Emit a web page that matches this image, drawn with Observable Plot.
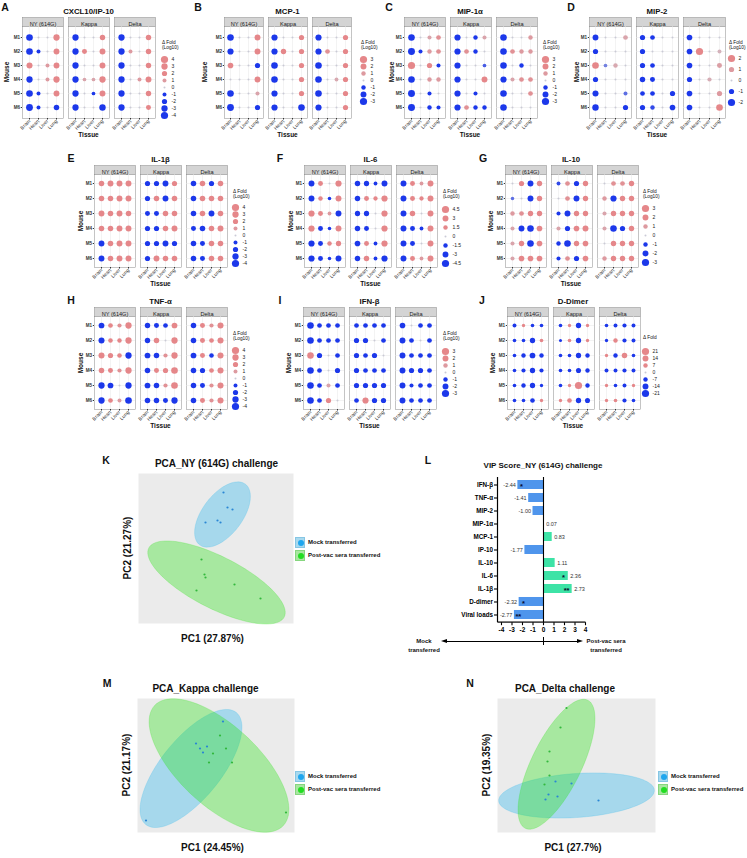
<!DOCTYPE html>
<html><head><meta charset="utf-8">
<script src="https://cdn.jsdelivr.net/npm/d3@7"></script>
<script src="https://cdn.jsdelivr.net/npm/@observablehq/plot@0.6"></script>
<style>
body{margin:0;background:#fff;}
#fig{position:relative;width:747px;height:858px;overflow:hidden;background:#fff;font-family:"Liberation Sans",Arial,sans-serif;}
.t{position:absolute;white-space:nowrap;line-height:1;color:#111;}
</style></head><body><div id="fig"></div>
<script>
// ---------------- DATA ----------------
const tissues = ["Brain", "Heart", "Liver", "Lung"];
const mice = ["M1", "M2", "M3", "M4", "M5", "M6"];
const strains = ["NY (614G)", "Kappa", "Delta"];

const breaks4 = [4, 3, 2, 1, 0, -1, -2, -3, -4];
const breaks3 = [3, 2, 1, 0, -1, -2, -3];
const breaks2 = [2, 1, 0, -1, -2];
const breaks45 = [4.5, 3, 1.5, 0, -1.5, -3, -4.5];
const breaksDD = [21, 14, 7, 0, -7, -14, -21];

// rows M1..M6, columns Brain, Heart, Liver, Lung
const ip10_NY = [[-3.4,0,0,3],[-3.4,-1,0,2.6],[2.8,0,1,2.6],[-3,0,1,3],[-3.4,-1,0,2.6],[-3.6,-1,0,-2.3]];
const ip10_Kappa = [[-3,0,0,2.2],[-3,1.8,0,2.6],[-3,0,0,2.6],[-3,0.8,0.8,3],[-3,0,-0.8,2.6],[-3,0,0,-3.2]];
const ip10_Delta = [[-3,0,0,2.2],[-3,1,0,2.2],[-3,0,0,2.2],[-3,0,1,2.6],[-3,0,0,2.2],[-3,0,0,1.8]];

const mcp1_NY = [[-2.5,0,0,2],[-2.2,0,0,2],[1.8,0,0,-1.5],[0,0,0,2],[-2.5,0,0,0.8],[-2.7,0,0,-1.5]];
const mcp1_Kappa = [[-2.2,0,0,1.5],[-2.2,1.6,0,1.5],[-2.5,0,0,1.5],[-2.5,0,0,1.5],[-2.2,0,0,1.5],[-2.2,0,0,-2.5]];
const mcp1_Delta = [[-2.2,0,0,1.5],[-2.2,1.2,0,1.5],[-2.5,0,0,1.5],[-2.5,0,0.7,1.5],[-2.5,0,0,1.5],[-2.2,0,0,1.5]];

const mip1a_NY = [[-2.5,0,0.8,1.2],[-2.8,-0.8,1,1.2],[3,0,1.5,-0.8],[-2.5,0,1,1],[-2.8,0,-0.8,0],[-2.8,0,-1,-0.8]];
const mip1a_Kappa = [[-2.2,0,-1,0.8],[-2.2,1.2,-1,0],[-2.2,0,0,-0.6],[-2.2,0,0,2],[-2.2,0,-0.8,0],[-2.2,1.2,-1,-1]];
const mip1a_Delta = [[-2.5,0,0,1],[-2.5,1.2,1,1],[-2.5,0,-1,0],[-2.2,0.8,1.2,1.2],[-2.5,0,0,1.2],[-2.5,0,0,0]];

const mip2_NY = [[-1.3,0,0,0.8],[-1,0,0,0],[1.7,-0.4,0.7,0],[-1,0,0,0],[-1.4,0,0,-0.5],[-1.6,0,0,-1]];
const mip2_Kappa = [[-1,-0.8,0,0],[-1,0,0,0],[-1,-0.8,0,0],[-1.1,-0.9,0,0],[-0.8,-0.8,0,-1],[-1,-0.7,0,-1.2]];
const mip2_Delta = [[-1.2,0,0,0],[-1.2,2,0,0.5],[-1.2,0,0,0.9],[-1,0,0.6,0],[-1.2,0,0,1],[-1.2,0,0,1.7]];

const il1b_NY = [[2.3,2.6,2.6,2.6],[2.3,2.3,2.6,2.6],[2.6,2.3,2.6,2.3],[2.3,2.3,2.6,2.6],[-2.6,2.3,2.6,2.6],[-2.6,2.3,2.6,2.6]];
const il1b_Kappa = [[-2,-2,-2.6,2],[-2,2.3,-2.6,2.3],[-1.8,-1.8,2.3,2.3],[-2,-2,2.3,2.6],[-2,-2,-2.6,-2],[-2,2.6,2.3,2.3]];
const il1b_Delta = [[-2.3,2.3,-2,2.3],[-2.3,2.3,2.3,2.3],[-2.3,2.3,-2.6,2.3],[-1.8,-2.3,2.3,2.6],[-2.3,-1.8,2.3,2.3],[-2.3,-1.8,2.3,2.3]];

const il6_NY = [[-3,2,0,3.3],[-3,1.6,-0.8,3],[3.3,2,1,-3],[3.3,-2,-0.8,3],[-3.3,-2,1.6,2.3],[-3.3,-2,-0.8,-3]];
const il6_Kappa = [[-2.5,-2.3,-1,-3],[-2.5,2,1.4,3.3],[-2.3,-2.3,0,3.3],[-2.5,-2,0,3.3],[-2.7,2,-1,3.3],[-2.5,2.5,-1,-3.3]];
const il6_Delta = [[-3,2,1,3],[-3,2,1.4,3],[-3,2.5,0,3],[-3,-2,-1,3],[-3,-2,0,3],[-3,2,1,3]];

const il10_NY = [[0,1.5,-2,1.6],[-0.5,0,-2,1.6],[1,1.2,1.6,1.6],[0.8,-2,-2.5,1.8],[0.8,1.6,-2.5,1.8],[0.8,1.8,1.8,1.8]];
const il10_Kappa = [[-0.7,1.2,-1.5,1.6],[0,1.2,-2,1.6],[-0.8,-2,1.6,1.6],[0.8,-1.5,1.8,2],[-1,-2.5,1.6,1.8],[-0.8,1.2,-1.5,1.8]];
const il10_Delta = [[0,1.2,1.2,1.6],[1,-2.2,1.6,1.6],[0.8,1.6,1.6,1.6],[0.8,-2.5,-1.5,1.6],[0,1.6,1.6,1.6],[1,1.6,1.6,1.6]];

const tnfa_NY = [[-2.5,1.6,1.2,3],[-2.8,1.5,1.4,3],[2.8,2,1.5,-3],[2.3,1.8,1.2,3],[-3,-2.5,0,-3],[-3,1.6,1,-3.4]];
const tnfa_Kappa = [[-2.2,-1.8,-1.6,2.5],[-2.2,2.3,0,3],[-2.5,-2.3,1.2,3],[-2.3,1.8,2,3.4],[-2.5,-2.3,1.2,3.4],[-2.3,-2.3,-1.8,-3]];
const tnfa_Delta = [[-2.3,1.8,1.2,2.8],[-2.3,1.8,1.6,2.8],[-2.5,1.8,-1.5,2.8],[-2.3,-2,1.6,2.8],[-2.3,-1.8,1.2,2.8],[-2.3,1.8,1.2,2.8]];

const ifnb_NY = [[-2.5,-1.2,-1.2,-1.2],[-2.5,-1.2,-1.2,-1.2],[2.5,-1.5,0,-1.2],[-2.5,-1.2,0,-1.5],[-2.5,-1.2,0.8,-1.2],[-2.5,-1.2,1.5,0]];
const ifnb_Kappa = [[-1.2,-1.2,-1.2,-1.2],[-1.5,-1.5,0,-1.2],[-1.5,-1.2,-1.5,0],[-1.5,-1.2,-1.2,-1.2],[-1.5,-1.5,-1.5,-1.5],[-1.2,2.2,-1.5,-1.5]];
const ifnb_Delta = [[-1.8,0,-1.2,-1.2],[-2,-1.2,0,-1.2],[-2,-1.2,-1.2,-1.2],[-2,-1.5,-1.5,-1.2],[-2,-0.8,-1.2,-1.2],[-2,-1.2,-1.2,-1.2]];

const ddimer_NY = [[-5,3,-4,-4],[-4,-4,-11,4],[-4,-7,-13,-7],[-4,-6,-11,-6],[-4,-7,-11,-3],[-4,-4,-8,3]];
const ddimer_Kappa = [[-4,3,-11,3],[-2,4,-11,3],[-4,-4,-11,-7],[-4,-4,-10,-7],[-4,3,21,-7],[3,8,-11,-10]];
const ddimer_Delta = [[-4,-5,-6,-5],[-3,7,-6,-5],[3,-7,12,-4],[-5,-5,-6,-5],[3,-4,-5,3],[3,4,-6,-4]];

// VIP scores (panel L)
const vipLabels = ["IFN-β","TNF-α","MIP-2","MIP-1α","MCP-1","IP-10","IL-10","IL-6","IL-1β","D-dimer","Viral loads"];
const vipScores = [-2.44,-1.41,-1.00,0.07,0.83,-1.77,1.11,2.36,2.73,-2.32,-2.77];
const vipStars = ["*","","","","","","","*","**","*","**"];
const vipStarX = [-2.1,null,null,null,null,null,null,1.9,2.2,-1.9,-2.4];
const vipTicks = [-4,-3,-2,-1,0,1,2,3,4];
const vipXDomain = [-4.38, 4];

// PCA scores (panels K, M, N)
const pcaK_mock_pc1 = [0.3,0.46,0.66,-0.42,0.06,0.18];
const pcaK_mock_pc2 = [2.24,1.64,1.56,1.04,1.12,1.04];
const pcaK_post_pc1 = [-0.58,-0.46,-0.42,-0.78,0.74,1.78];
const pcaK_post_pc2 = [-0.44,-1.04,-1.16,-1.68,-1.44,-2.0];
const pcaK_mock_ellipse = [0.26,1.36,1.52,0.8,53];   // cx, cy, semi-major, semi-minor, angle
const pcaK_post_ellipse = [0.02,-1.36,3.04,1.04,-27];

const pcaM_mock_pc1 = [0.28,-0.8,-0.64,-0.36,-0.52,-2.8];
const pcaM_mock_pc2 = [1.76,0.88,0.68,0.76,0.52,-2.2];
const pcaM_post_pc1 = [0.16,-0.12,-0.28,0.64,0.4,2.8];
const pcaM_post_pc2 = [1.2,0.48,0.12,0.12,0.68,-1.88];
const pcaM_mock_ellipse = [-1.0,-0.12,2.88,1.2,51];
const pcaM_post_ellipse = [0.12,0,3.52,1.6,-43];

const pcaN_mock_pc1 = [-0.84,-0.2,-1.12,-0.76,0.88,-1.24];
const pcaN_mock_pc2 = [-0.64,-0.72,-1.16,-1.24,-1.4,-1.36];
const pcaN_post_pc1 = [-0.4,-0.64,-1.08,-1.16,-1.08,-1.28];
const pcaN_post_pc2 = [2.3,1.52,0.56,0.16,-0.4,-0.76];
const pcaN_mock_ellipse = [0,-1.2,3.12,0.88,4];
const pcaN_post_ellipse = [-0.8,0.05,2.85,1.0,64];

// ---------------- STYLE ----------------
const FONT = '"Liberation Sans", Arial, sans-serif';
const BLUE = "#1c38ea", GREY = "#cacad6", RED = "#e5878a";
const fig = document.getElementById("fig");

function txt(s, x, y, o = {}) {
  const d = document.createElement("div");
  d.className = "t";
  d.textContent = s;
  d.style.left = x + "px"; d.style.top = y + "px";
  d.style.fontSize = (o.size || 8) + "px";
  d.style.fontWeight = o.weight || "normal";
  if (o.color) d.style.color = o.color;
  const a = o.anchor || "middle";
  const tx = a === "middle" ? "-50%" : a === "end" ? "-100%" : "0";
  d.style.transform = `translate(${tx},-50%)` + (o.rotate ? ` rotate(${o.rotate}deg)` : "");
  fig.appendChild(d);
}
function put(svg, x, y) {
  svg.style.position = "absolute";
  svg.style.left = x + "px";
  svg.style.top = y + "px";
  fig.appendChild(svg);
}
function box(css) {
  const d = document.createElement("div");
  d.style.cssText = "position:absolute;" + css;
  fig.appendChild(d);
  return d;
}

// ---------------- BUBBLE PANELS ----------------
const row1 = {top: 26, bot: 118, legY0: 57};
const row2 = {top: 174, bot: 267, legY0: 206};
const row3 = {top: 316, bot: 409, legY0: 348};
const panels = [
  {L:"A", lx:5, ly:7, title:"CXCL10/IP-10", vals:[ip10_NY, ip10_Kappa, ip10_Delta], breaks:breaks4, fl:22, fr:155, ...row1, mouseX:7, legX:164, legY1:116},
  {L:"B", lx:198, ly:7, title:"MCP-1", vals:[mcp1_NY, mcp1_Kappa, mcp1_Delta], breaks:breaks3, fl:223, fr:352, ...row1, mouseX:205, legX:363, legY1:103},
  {L:"C", lx:389, ly:7, title:"MIP-1α", vals:[mip1a_NY, mip1a_Kappa, mip1a_Delta], breaks:breaks3, fl:403, fr:537, ...row1, mouseX:392, legX:545, legY1:103},
  {L:"D", lx:571, ly:7, title:"MIP-2", vals:[mip2_NY, mip2_Kappa, mip2_Delta], breaks:breaks2, fl:589, fr:725, ...row1, mouseX:577, legX:731, legY1:103},
  {L:"E", lx:71, ly:158, title:"IL-1β", vals:[il1b_NY, il1b_Kappa, il1b_Delta], breaks:breaks4, fl:93, fr:228, ...row2, mouseX:81, legX:235, legY1:264},
  {L:"F", lx:280, ly:158, title:"IL-6", vals:[il6_NY, il6_Kappa, il6_Delta], breaks:breaks45, fl:303, fr:438, ...row2, mouseX:291, legX:445, legY1:265},
  {L:"G", lx:483, ly:158, title:"IL-10", vals:[il10_NY, il10_Kappa, il10_Delta], breaks:breaks3, fl:504, fr:638, ...row2, mouseX:491, legX:645, legY1:264},
  {L:"H", lx:71, ly:300, title:"TNF-α", vals:[tnfa_NY, tnfa_Kappa, tnfa_Delta], breaks:breaks4, fl:93, fr:228, ...row3, mouseX:81, legX:235, legY1:407},
  {L:"I", lx:280, ly:300, title:"IFN-β", vals:[ifnb_NY, ifnb_Kappa, ifnb_Delta], breaks:breaks3, fl:302, fr:437, ...row3, mouseX:289, legX:445, legY1:395},
  {L:"J", lx:482, ly:300, title:"D-Dimer", vals:[ddimer_NY, ddimer_Kappa, ddimer_Delta], breaks:breaksDD, fl:506, fr:640, ...row3, mouseX:493, legX:645, legY1:395, noLog:true}
];

function bubble(p) {
  const rows = [];
  strains.forEach((s, si) => p.vals[si].forEach((row, mi) => row.forEach((v, ti) =>
    rows.push({strain: s, mouse: mice[mi], tissue: tissues[ti], v}))));
  const mL = 14, mR = 2, mT = 10, mB = 14;
  const areaH = p.bot - p.top;
  const rScale = {type: "pow", exponent: 0.7, domain: [0, p.breaks[0]], range: [1, 3.6]};
  const cScale = {type: "linear", domain: [-0.8, 0, 1.4], range: [BLUE, GREY, RED], clamp: true};
  const svg = Plot.plot({
    width: p.fr - p.fl + mL + mR, height: areaH + mT + mB,
    marginLeft: mL, marginRight: mR, marginTop: mT, marginBottom: mB,
    style: {background: "transparent", overflow: "visible", fontFamily: FONT},
    fx: {domain: strains, paddingInner: 0.11, paddingOuter: 0, axis: null, label: null},
    x: {type: "point", domain: tissues, padding: 0.6},
    y: {type: "point", domain: mice, padding: 0.6},
    r: rScale,
    color: cScale,
    marks: [
      Plot.frame({fill: "#d4d4d4", stroke: "#8a8a8a", strokeWidth: 0.5, insetTop: -(mT - 1), insetBottom: areaH}),
      Plot.frame({fill: "white", stroke: "#8a8a8a", strokeWidth: 0.5}),
      Plot.gridX({stroke: "#e6e6e6", strokeOpacity: 1, strokeWidth: 0.5}),
      Plot.gridY({stroke: "#e6e6e6", strokeOpacity: 1, strokeWidth: 0.5}),
      Plot.axisX({tickRotate: -45, tickSize: 1.5, tickPadding: 0.5, fontSize: 5, label: null, color: "#333"}),
      Plot.axisY({tickSize: 1.2, tickPadding: 1.2, fontSize: 4.6, fontWeight: "bold", label: null, color: "#333"}),
      Plot.text(strains, {fx: d => d, text: d => d, frameAnchor: "top", dy: -(mT - 1) / 2, fontSize: 5.6, fill: "#1a1a1a"}),
      Plot.dot(rows, {fx: "strain", x: "tissue", y: "mouse", r: d => Math.abs(d.v) + 1e-3, fill: "v"})
    ]
  });
  put(svg, p.fl - mL, p.top - mT);

  // legend (size + colour)
  const lg = Plot.plot({
    width: 30, height: (p.legY1 - p.legY0) + 12,
    marginLeft: 0, marginRight: 0, marginTop: 6, marginBottom: 6,
    style: {background: "transparent", overflow: "visible", fontFamily: FONT},
    y: {type: "point", domain: p.breaks.map(String), padding: 0, axis: null},
    r: rScale, color: cScale,
    marks: [
      Plot.dot(p.breaks, {y: d => String(d), r: d => Math.abs(d) + 1e-3, fill: d => d, frameAnchor: "left", dx: 4}),
      Plot.text(p.breaks, {y: d => String(d), text: d => String(d), frameAnchor: "left", dx: 11, textAnchor: "start", fontSize: 5, fill: "#222"})
    ]
  });
  put(lg, p.legX - 4, p.legY0 - 6);

  const cx = (p.fl + p.fr) / 2;
  txt(p.L, p.lx, p.ly, {size: 10.5, weight: "bold"});
  txt(p.title, cx, p.top - 14, {size: 7.8, weight: "bold"});
  txt("Mouse", p.mouseX, (p.top + p.bot) / 2, {size: 6.5, weight: "bold", rotate: -90});
  txt("Tissue", cx, p.bot + 17, {size: 6.5, weight: "bold"});
  if (p.noLog) {
    txt("Δ Fold", p.legX - 2, p.legY0 - 10, {size: 4.8, anchor: "start"});
  } else {
    txt("Δ Fold", p.legX - 2, p.legY0 - 14, {size: 4.8, anchor: "start"});
    txt("(Log10)", p.legX - 2, p.legY0 - 9, {size: 4.8, anchor: "start"});
  }
}
panels.forEach(bubble);

// ---------------- PCA PANELS ----------------
const MOCK_FILL = "rgb(38,181,238)", POST_FILL = "rgb(41,226,21)";
const MOCK_PT = "#2a86d4", POST_PT = "#33b83d";
function ellipsePts([cx, cy, a, b, ang]) {
  const t = ang * Math.PI / 180;
  return d3.range(0, 360, 4).map(deg => {
    const u = deg * Math.PI / 180;
    return {x: cx + a * Math.cos(u) * Math.cos(t) - b * Math.sin(u) * Math.sin(t),
            y: cy + a * Math.cos(u) * Math.sin(t) + b * Math.sin(u) * Math.cos(t)};
  });
}
function pca(p) {
  const W = p.w, H = p.h;
  const mock = p.mx.map((x, i) => ({x, y: p.my[i]}));
  const post = p.px.map((x, i) => ({x, y: p.py[i]}));
  const svg = Plot.plot({
    width: W, height: H, marginLeft: 0, marginRight: 0, marginTop: 0, marginBottom: 0,
    style: {background: "transparent", overflow: "visible"},
    x: {domain: [-W / 50, W / 50], axis: null},
    y: {domain: [-H / 50, H / 50], axis: null},
    marks: [
      Plot.frame({fill: "#ebebeb"}),
      Plot.line(ellipsePts(p.me), {x: "x", y: "y", curve: "linear-closed", fill: MOCK_FILL, fillOpacity: 0.35, stroke: MOCK_FILL, strokeOpacity: 0.35, strokeWidth: 0.6}),
      Plot.line(ellipsePts(p.pe), {x: "x", y: "y", curve: "linear-closed", fill: POST_FILL, fillOpacity: 0.35, stroke: POST_FILL, strokeOpacity: 0.35, strokeWidth: 0.6}),
      Plot.dot(mock, {x: "x", y: "y", r: 1.1, fill: MOCK_PT}),
      Plot.dot(post, {x: "x", y: "y", r: 1.1, fill: POST_PT})
    ]
  });
  put(svg, p.x0, p.y0);
  const cx = p.x0 + W / 2, cy = p.y0 + H / 2;
  txt(p.L, p.lx, p.ly, {size: 10.5, weight: "bold"});
  txt(p.title, cx + p.tdx, p.y0 - 9, {size: 10, weight: "bold"});
  txt(p.ylab, p.x0 - 10, cy, {size: 10, weight: "bold", rotate: -90});
  txt(p.xlab, cx - 3, p.y0 + H + 16, {size: 10, weight: "bold"});
  // legend keys
  [["Mock transferred", "#a8d9ee", "#1fa6ee", "#86c6e4"], ["Post-vac sera transferred", "#a9e6a1", "#22dd22", "#86d67f"]].forEach(([lab, bg, dot, bd], i) => {
    const yy = p.legY + i * 13;
    const k = box(`left:${p.legX - 5}px;top:${yy - 5.5}px;width:10px;height:11px;background:${bg};border:0.6px solid ${bd};box-sizing:border-box;`);
    const c = document.createElement("div");
    c.style.cssText = `position:absolute;left:1.5px;top:2px;width:6px;height:6px;border-radius:50%;background:${dot};`;
    k.appendChild(c);
    txt(lab, p.legX + 8, yy, {size: 6, weight: "bold", anchor: "start"});
  });
}
pca({L:"K", lx:106, ly:460, title:"PCA_NY (614G) challenge", tdx:1, xlab:"PC1 (27.87%)", ylab:"PC2 (21.27%)",
  x0:138, y0:473, w:155, h:150, mx:pcaK_mock_pc1, my:pcaK_mock_pc2, px:pcaK_post_pc1, py:pcaK_post_pc2,
  me:pcaK_mock_ellipse, pe:pcaK_post_ellipse, legX:300, legY:542});
pca({L:"M", lx:107, ly:683, title:"PCA_Kappa challenge", tdx:-10, xlab:"PC1 (24.45%)", ylab:"PC2 (21.17%)",
  x0:137, y0:698, w:157, h:134, mx:pcaM_mock_pc1, my:pcaM_mock_pc2, px:pcaM_post_pc1, py:pcaM_post_pc2,
  me:pcaM_mock_ellipse, pe:pcaM_post_ellipse, legX:300, legY:776});
pca({L:"N", lx:470, ly:683, title:"PCA_Delta challenge", tdx:-11, xlab:"PC1 (27.7%)", ylab:"PC2 (19.35%)",
  x0:497, y0:698, w:158, h:134, mx:pcaN_mock_pc1, my:pcaN_mock_pc2, px:pcaN_post_pc1, py:pcaN_post_pc2,
  me:pcaN_mock_ellipse, pe:pcaN_post_ellipse, legX:663, legY:776});

// ---------------- VIP PANEL (L) ----------------
(function () {
  const vipData = vipLabels.map((name, i) => ({name, score: vipScores[i], star: vipStars[i], starX: vipStarX[i]}));
  const mL = 42, mR = 30, mT = 8, mB = 16, areaW = 88, areaH = 145.2;
  const svg = Plot.plot({
    width: mL + areaW + mR, height: mT + areaH + mB,
    marginLeft: mL, marginRight: mR, marginTop: mT, marginBottom: mB,
    style: {background: "transparent", overflow: "visible", fontFamily: FONT},
    x: {domain: vipXDomain},
    y: {domain: vipLabels, paddingInner: 0.3, paddingOuter: 0.15},
    color: {domain: ["neg", "pos"], range: ["#4f95ec", "#3de3a6"]},
    marks: [
      Plot.barX(vipData, {x: "score", y: "name", fill: d => d.score < 0 ? "neg" : "pos"}),
      Plot.ruleX([0], {stroke: "#000", strokeWidth: 1.1}),
      Plot.ruleX([vipXDomain[0]], {stroke: "#000", strokeWidth: 1.2}),
      Plot.frame({fill: "#000", insetTop: areaH - 1.2}),
      Plot.axisX(vipTicks, {tickSize: 3, tickPadding: 1.5, fontSize: 6.5, fontWeight: "bold", strokeWidth: 1.1, color: "#000", label: null, tickFormat: d => String(d)}),
      Plot.axisY({tickSize: 3, tickPadding: 1.5, fontSize: 6.3, fontWeight: "bold", strokeWidth: 1.1, color: "#000", label: null}),
      Plot.text(vipData.filter(d => d.score < 0), {x: "score", y: "name", text: d => d.score.toFixed(2), textAnchor: "end", dx: -2, fontSize: 5.5, fill: "#333"}),
      Plot.text(vipData.filter(d => d.score >= 0), {x: "score", y: "name", text: d => d.score.toFixed(2), textAnchor: "start", dx: 2, fontSize: 5.5, fill: "#333"}),
      Plot.text(vipData.filter(d => d.star), {x: "starX", y: "name", text: "star", fontSize: 7.5, fontWeight: "bold", dy: 1.5, fill: "#0a0a2a"})
    ]
  });
  put(svg, 497 - mL, 477.4 - mT);
  txt("L", 428, 460, {size: 10.5, weight: "bold"});
  txt("VIP Score_NY (614G) challenge", 543, 466, {size: 8, weight: "bold"});
  txt("Mock", 424, 641, {size: 6, weight: "bold"});
  txt("transferred", 424, 650, {size: 6, weight: "bold"});
  txt("Post-vac sera", 606, 641, {size: 6, weight: "bold"});
  txt("transferred", 606, 650, {size: 6, weight: "bold"});
  // direction arrow
  box("left:446px;top:641px;width:132px;height:1px;background:#000;");
  box("left:441px;top:639px;width:0;height:0;border-top:2.5px solid transparent;border-bottom:2.5px solid transparent;border-right:6px solid #000;");
  box("left:577px;top:639px;width:0;height:0;border-top:2.5px solid transparent;border-bottom:2.5px solid transparent;border-left:6px solid #000;");
  box("left:543px;top:637px;width:1px;height:8px;background:#000;");
})();
</script>
</body></html>
